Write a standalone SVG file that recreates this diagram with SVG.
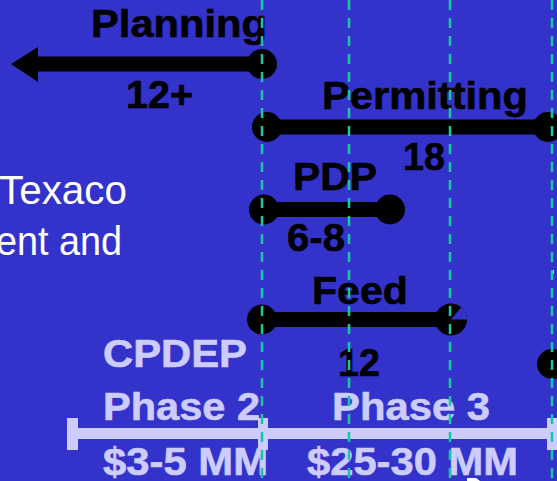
<svg xmlns="http://www.w3.org/2000/svg" width="557" height="481" viewBox="0 0 557 481">
  <defs>
    <style>
      .bar { stroke: #000; stroke-width: 15; fill: none; }
      .dot { fill: #000; }
      .lbl { font-family: "Liberation Sans", Arial, sans-serif; font-weight: bold; font-size: 39px; fill: #000; stroke: #000; stroke-width: 0.6; }
      .phase { font-family: "Liberation Sans", Arial, sans-serif; font-weight: bold; font-size: 39px; fill: #ccccff; stroke: #ccccff; stroke-width: 0.6; }
      .body { font-family: "Liberation Sans", Arial, sans-serif; font-size: 40px; fill: #ffffff; }
      .guide { stroke: #14c8a0; stroke-width: 2.5; stroke-dasharray: 10 8; fill: none; }
      .scale { fill: #ccccff; }
    </style>
  </defs>

  <!-- slide background -->
  <rect x="0" y="0" width="557" height="481" fill="#3333cc"/>

  <!-- body text, cut at the left edge -->
  <g id="body-text">
    <text class="body" x="-1" y="204" textLength="128" lengthAdjust="spacingAndGlyphs">Texaco</text>
    <text class="body" x="-4" y="255" textLength="126" lengthAdjust="spacingAndGlyphs">ent and</text>
  </g>

  <!-- Planning: open-ended, pointing back in time -->
  <g id="planning">
    <text class="lbl" x="91" y="37" textLength="176" lengthAdjust="spacingAndGlyphs">Planning</text>
    <line class="bar" x1="36" y1="64" x2="262" y2="64"/>
    <polygon class="dot" points="11,64 38,47 38,82"/>
    <circle class="dot" cx="262" cy="64" r="15"/>
    <text class="lbl" x="126" y="108" textLength="67" lengthAdjust="spacingAndGlyphs">12+</text>
  </g>

  <!-- Permitting -->
  <g id="permitting">
    <text class="lbl" x="322" y="109" textLength="206" lengthAdjust="spacingAndGlyphs">Permitting</text>
    <line class="bar" x1="267" y1="127" x2="548" y2="127"/>
    <circle class="dot" cx="267" cy="127" r="15"/>
    <circle class="dot" cx="548" cy="127" r="15"/>
    <text class="lbl" x="403" y="170" textLength="42" lengthAdjust="spacingAndGlyphs">18</text>
  </g>

  <!-- PDP -->
  <g id="pdp">
    <text class="lbl" x="293" y="190" textLength="84" lengthAdjust="spacingAndGlyphs">PDP</text>
    <line class="bar" x1="264" y1="209.5" x2="390" y2="209.5"/>
    <circle class="dot" cx="264" cy="209.5" r="15"/>
    <circle class="dot" cx="390" cy="209.5" r="15"/>
    <text class="lbl" x="287" y="251" textLength="58" lengthAdjust="spacingAndGlyphs">6-8</text>
  </g>

  <!-- Feed -->
  <g id="feed">
    <text class="lbl" x="312" y="304" textLength="96" lengthAdjust="spacingAndGlyphs">Feed</text>
    <line class="bar" x1="262" y1="319.5" x2="451" y2="319.5"/>
    <circle class="dot" cx="262" cy="319.5" r="15"/>
    <circle class="dot" cx="451" cy="319.5" r="16"/>
    <path d="M451,319.5 L467,319.5 A16,16 0 0 0 461.3,307.3 Z" fill="#3333cc"/>
    <text class="lbl" x="338" y="376" textLength="42" lengthAdjust="spacingAndGlyphs">12</text>
  </g>

  <!-- next milestone at the right edge -->
  <g id="milestone-right">
    <circle class="dot" cx="552" cy="364" r="15"/>
  </g>

  <!-- CPDEP phase scale -->
  <g id="cpdep-scale">
    <text class="phase" x="103" y="367" textLength="144" lengthAdjust="spacingAndGlyphs">CPDEP</text>
    <rect class="scale" x="67" y="428" width="490" height="11"/>
    <rect class="scale" x="67" y="418" width="11" height="32"/>
    <rect class="scale" x="258" y="418" width="10" height="32"/>
    <rect class="scale" x="547" y="418" width="10" height="32"/>
  </g>

  <g id="phase-2">
    <text class="phase" x="103" y="420" textLength="157" lengthAdjust="spacingAndGlyphs">Phase 2</text>
    <text class="phase" x="103" y="475" textLength="165" lengthAdjust="spacingAndGlyphs">$3-5 MM</text>
  </g>

  <g id="phase-3">
    <text class="phase" x="332" y="420" textLength="158" lengthAdjust="spacingAndGlyphs">Phase 3</text>
    <text class="phase" x="307" y="475" textLength="211" lengthAdjust="spacingAndGlyphs">$25-30 MM</text>
  </g>

  <!-- small fragments at the edges -->
  <polygon points="467,478 476,478 480,481 467,481" fill="#ffffff"/>
  <rect x="552" y="270" width="2" height="4" fill="#ccccff"/>

  <!-- dashed year guides, drawn over everything -->
  <g id="connectors">
    <line class="guide" x1="262" y1="0" x2="262" y2="481"/>
    <line class="guide" x1="349" y1="0" x2="349" y2="481"/>
    <line class="guide" x1="450" y1="0" x2="450" y2="481"/>
    <line class="guide" x1="552" y1="0" x2="552" y2="481"/>
  </g>
</svg>
